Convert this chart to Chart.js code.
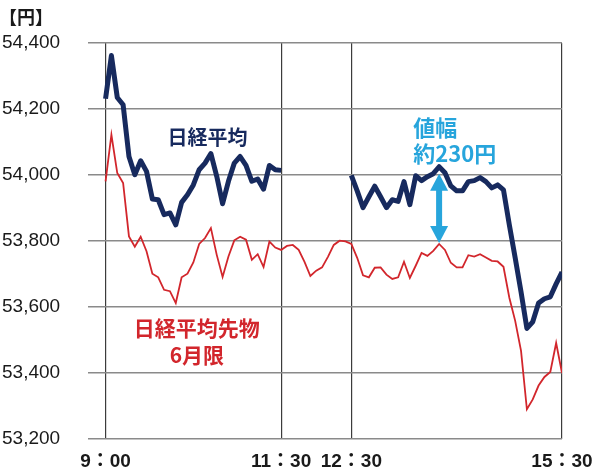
<!DOCTYPE html>
<html lang="ja">
<head>
<meta charset="utf-8">
<script src="https://cdn.jsdelivr.net/npm/chart.js@4/dist/chart.umd.min.js"></script>
<style>
  html, body { margin: 0; padding: 0; background: #fff; }
  #contenedor { width: 600px; height: 474px; position: relative; }
</style>
</head>
<body>
<div id="contenedor"><canvas id="grafica"></canvas></div>
<script>
// valores cada 5 minutos
const nikkeiManana = [54231, 54362, 54235, 54213, 54056, 54001, 54043, 54011, 53927, 53925,
  53880, 53885, 53849, 53917, 53940, 53970, 54016, 54036, 54065, 53996,
  53913, 53981, 54036, 54056, 54029, 53981, 53988, 53957, 54029, 54016, 54014];
const nikkeiTarde = [53999, 53952, 53901, 53934, 53966, 53934, 53901, 53925, 53920, 53980,
  53910, 53998, 53983, 53995, 54004, 54025, 54007, 53967, 53952, 53952,
  53980, 53983, 53992, 53980, 53961, 53970, 53955, 53849, 53749, 53646,
  53535, 53555, 53612, 53625, 53631, 53670, 53706];
const futuros = [53981, 54122, 54006, 53976, 53814, 53783, 53813, 53769, 53701, 53690,
  53652, 53648, 53612, 53690, 53701, 53735, 53791, 53809, 53839, 53758,
  53691, 53753, 53802, 53813, 53804, 53743, 53760, 53721, 53798, 53780, 53773,
  // receso
  53785, 53788, 53773, 53737, 53694, 53710, 53720, 53752, 53788, 53801, 53799,
  // tarde
  53791, 53749, 53696, 53690, 53719, 53720, 53698, 53685, 53690, 53737,
  53688, 53725, 53764, 53755, 53770, 53791, 53773, 53734, 53720, 53720,
  53757, 53753, 53760, 53750, 53740, 53738, 53722, 53628, 53558, 53467,
  53290, 53320, 53362, 53388, 53403, 53491, 53400];

const horaManana = "9:00";
const horaTarde = "12:30";
const horaInicioEje = "8:45";
const horaFinEje = "15:30";
const etiquetasX = ["9:00", "11:30", "12:30", "15:30"];
const minimoY = 53200;
const maximoY = 54400;
const pasoY = 200;

const azul = "#172a5e";
const rojo = "#d2262c";
const celeste = "#27a5dc";

const aMinutos = (hora) => {
  const [h, m] = hora.split(":").map(Number);
  return (h - 9) * 60 + m;
};

const aHora = (min) => {
  const h = 9 + Math.floor(min / 60);
  const m = min % 60;
  return h + "：" + String(m).padStart(2, "0");
};

const serie = (valores, hora) => valores.map((v, i) => ({ x: aMinutos(hora) + i * 5, y: v }));

const datosNikkei = [
  ...serie(nikkeiManana, horaManana),
  { x: 180, y: null },
  ...serie(nikkeiTarde, horaTarde)
];
const datosFuturos = serie(futuros, horaManana);

// textos del gráfico
const notas = [
  { texto: "日経平均", hora: "10:27", valor: 54115, color: azul, alinear: "center", size: 20 },
  { texto: "日経平均先物", hora: "10:18", valor: 53537, color: rojo, alinear: "center", size: 21 },
  { texto: "6月限", hora: "10:18", valor: 53456, color: rojo, alinear: "center", size: 21 },
  { texto: "値幅", hora: "13:23", valor: 54145, color: celeste, alinear: "left", size: 22 },
  { texto: "約230円", hora: "13:23", valor: 54065, color: celeste, alinear: "left", size: 22 }
];
const flechaHora = "13:45";

const fuenteJP = "'Noto Sans CJK JP', 'Noto Sans', sans-serif";

const pluginNotas = {
  id: "notas",
  afterDatasetsDraw(chart) {
    const { ctx, scales: { x, y } } = chart;
    ctx.save();

    // flecha de doble punta
    const idx = (aMinutos(flechaHora) - aMinutos(horaTarde)) / 5;
    const idxF = (aMinutos(flechaHora) - aMinutos(horaManana)) / 5;
    const px = x.getPixelForValue(aMinutos(flechaHora));
    const arriba = y.getPixelForValue(nikkeiTarde[idx]) + 7;
    const abajo = y.getPixelForValue(futuros[idxF]) - 1;
    const punta = 17, ancho = 9;
    ctx.fillStyle = celeste;
    ctx.fillRect(px - 3, arriba + punta - 2, 6, abajo - arriba - 2 * punta + 4);
    ctx.beginPath();
    ctx.moveTo(px, arriba);
    ctx.lineTo(px + ancho, arriba + punta);
    ctx.lineTo(px - ancho, arriba + punta);
    ctx.closePath();
    ctx.fill();
    ctx.beginPath();
    ctx.moveTo(px, abajo);
    ctx.lineTo(px + ancho, abajo - punta);
    ctx.lineTo(px - ancho, abajo - punta);
    ctx.closePath();
    ctx.fill();

    ctx.textBaseline = "middle";
    notas.forEach(n => {
      ctx.font = "bold " + n.size + "px " + fuenteJP;
      ctx.fillStyle = n.color;
      ctx.textAlign = n.alinear;
      ctx.fillText(n.texto, x.getPixelForValue(aMinutos(n.hora)), y.getPixelForValue(n.valor));
    });

    // unidad
    ctx.font = "bold 18px " + fuenteJP;
    ctx.fillStyle = "#1a1a1a";
    ctx.textAlign = "left";
    ctx.fillText("【円】", -1, 17);
    ctx.restore();
  }
};

const config = {
  type: "line",
  data: {
    datasets: [
      {
        label: "日経平均",
        data: datosNikkei,
        borderColor: azul,
        borderWidth: 5,
        pointRadius: 0,
        tension: 0,
        borderJoinStyle: "round",
        spanGaps: false
      },
      {
        label: "日経平均先物 6月限",
        data: datosFuturos,
        borderColor: rojo,
        borderWidth: 1.8,
        pointRadius: 0,
        tension: 0
      }
    ]
  },
  options: {
    responsive: true,
    maintainAspectRatio: false,
    animation: false,
    layout: { padding: { top: 43, left: 2, right: 38, bottom: 0 } },
    plugins: {
      legend: { display: false },
      tooltip: { enabled: false }
    },
    scales: {
      x: {
        type: "linear",
        min: aMinutos(horaInicioEje),
        max: aMinutos(horaFinEje),
        afterBuildTicks: (eje) => {
          eje.ticks = etiquetasX.map(t => ({ value: aMinutos(t) }));
        },
        afterFit: (eje) => {
          eje.height = 35;
          eje.paddingLeft = 0;
          eje.paddingRight = 0;
        },
        ticks: {
          callback: (v) => aHora(v),
          autoSkip: false,
          maxRotation: 0,
          padding: 11,
          color: "#1a1a1a",
          font: { family: "'Liberation Sans', 'Noto Sans CJK JP'", size: 19, weight: "bold" }
        },
        grid: { color: "#3c3c3c", lineWidth: 1.2, drawTicks: false },
        border: { display: false }
      },
      y: {
        min: minimoY,
        max: maximoY,
        afterFit: (eje) => { eje.width = 86; },
        ticks: {
          stepSize: pasoY,
          crossAlign: "far",
          color: "#1a1a1a",
          callback: (v) => v.toLocaleString("en-US"),
          font: { family: "'Liberation Sans', sans-serif", size: 19 }
        },
        grid: { color: "#8a8a8a", lineWidth: 1.5, drawTicks: false },
        border: { display: false }
      }
    }
  },
  plugins: [pluginNotas]
};

new Chart(document.getElementById("grafica"), config);
</script>
</body>
</html>
